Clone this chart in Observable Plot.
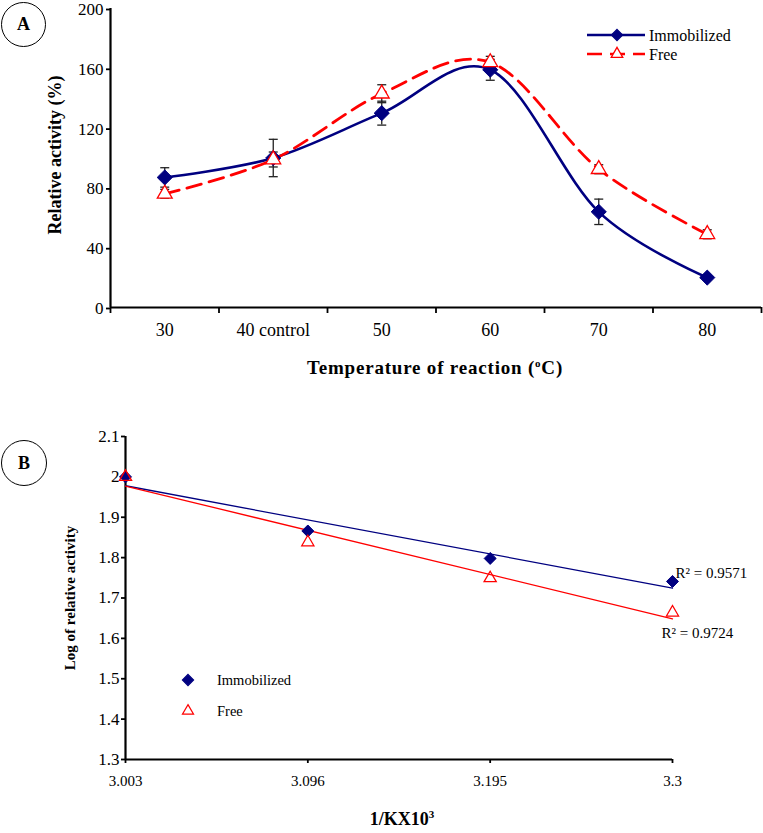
<!DOCTYPE html>
<html><head><meta charset="utf-8">
<script src="https://cdn.jsdelivr.net/npm/d3@7"></script>
<script src="https://cdn.jsdelivr.net/npm/@observablehq/plot@0.6"></script>
<style>
html,body{margin:0;padding:0;background:#fff;}
body{width:763px;height:833px;position:relative;overflow:hidden;font-family:"Liberation Serif","Times New Roman",serif;color:#000;}
.abs{position:absolute;}
.ctr{position:absolute;transform:translate(-50%,-50%);white-space:nowrap;}
.rot{position:absolute;transform:translate(-50%,-50%) rotate(-90deg);white-space:nowrap;}
.circ{position:absolute;border:1.3px solid #000;border-radius:50%;display:flex;align-items:center;justify-content:center;font-weight:bold;font-size:18px;box-sizing:border-box;}
</style></head>
<body>
<div id="A" class="abs" style="left:0;top:0"></div>
<div id="B" class="abs" style="left:0;top:400px"></div>
<div id="overlay"></div>
<script>
// ---- Panel A data ----
const tempLabels = ["30", "40 control", "50", "60", "70", "80"];
const immobA = [87, 100, 130, 159, 64, 20];
const immobErr = [6.5, 12.5, 8, 7, 8.5, 0];
const freeA = [76, 99, 143, 164, 92.5, 49];
const freeErr = [3, 5, 6, 4, 3, 3];
const yTicksA = [0, 40, 80, 120, 160, 200];

// ---- Panel B data ----
const invTLabels = ["3.003", "3.096", "3.195", "3.3"];
const immobLog = [2.0, 1.866, 1.798, 1.741];
const freeLog = [2.0, 1.838, 1.749, 1.664];
const yTicksB = [1.3, 1.4, 1.5, 1.6, 1.7, 1.8, 1.9, 2, 2.1];
const r2Labels = ["R\u00B2 = 0.9571", "R\u00B2 = 0.9724"];

const NAVY = "#000080", RED = "#FF0000";
const capSymbol = {draw(ctx) { ctx.moveTo(-4.5, 0); ctx.lineTo(4.5, 0); }};

const rowsIm = immobA.map((v, i) => ({i, v, e: immobErr[i]}));
const rowsFr = freeA.map((v, i) => ({i, v, e: freeErr[i]}));
const errRows = [...rowsIm, ...rowsFr].filter(d => d.e > 0);
const capRows = errRows.flatMap(d => [{i: d.i, y: d.v - d.e}, {i: d.i, y: d.v + d.e}]);

const plotA = Plot.plot({
  width: 763, height: 390,
  marginLeft: 110, marginRight: 2, marginTop: 8, marginBottom: 83,
  style: {fontFamily: "Liberation Serif, serif", fontSize: "17px", color: "#000", background: "transparent", overflow: "visible"},
  x: {domain: [-0.5, 5.5]},
  y: {domain: [0, 200]},
  marks: [
    Plot.axisY({ticks: yTicksA, tickSize: 4, tickPadding: 3, label: null, strokeWidth: 1.8, fontSize: 17, dy: 1}),
    Plot.axisX({ticks: d3.range(6), tickFormat: i => tempLabels[i], tickSize: 0, tickPadding: 16, label: null, fontSize: 18}),
    Plot.axisX({ticks: d3.range(7).map(k => k - 0.5), tickFormat: () => "", tickSize: 6, label: null, strokeWidth: 1.8}),
    Plot.ruleY([0], {stroke: "#000", strokeWidth: 2.2}),
    Plot.ruleX([-0.5], {stroke: "#000", strokeWidth: 2.2}),
    Plot.ruleX(errRows, {x: "i", y1: d => d.v - d.e, y2: d => d.v + d.e, stroke: "#222", strokeWidth: 1.3}),
    Plot.dot(capRows, {x: "i", y: "y", symbol: capSymbol, stroke: "#222", strokeWidth: 1.3, fill: "none"}),
    Plot.line(rowsIm, {x: "i", y: "v", stroke: NAVY, strokeWidth: 2.6, curve: "cardinal"}),
    Plot.line(rowsFr, {x: "i", y: "v", stroke: RED, strokeWidth: 2.8, strokeDasharray: "15,8", curve: "cardinal"}),
    Plot.dot(rowsIm, {x: "i", y: "v", symbol: "diamond2", r: 6.8, fill: NAVY, stroke: NAVY, strokeWidth: 1}),
    Plot.dot(rowsFr, {x: "i", y: "v", symbol: "triangle2", r: 7.1, fill: "#fff", stroke: RED, strokeWidth: 1.3})
  ]
});
document.getElementById("A").appendChild(plotA);

const rowsImB = immobLog.map((v, i) => ({i, v}));
const rowsFrB = freeLog.map((v, i) => ({i, v}));
const r2Rows = [
  {i: 3, v: immobLog[3], t: r2Labels[0]},
  {i: 3, v: freeLog[3], t: r2Labels[1]}
];

const plotB = Plot.plot({
  width: 763, height: 433,
  marginLeft: 125, marginRight: 91, marginTop: 36, marginBottom: 74,
  style: {fontFamily: "Liberation Serif, serif", fontSize: "15px", color: "#000", background: "transparent", overflow: "visible"},
  x: {domain: [0, 3]},
  y: {domain: [1.3, 2.1]},
  marks: [
    Plot.axisY({ticks: yTicksB, tickFormat: d => String(d), tickSize: 4, tickPadding: 2, label: null, strokeWidth: 1.8, fontSize: 17}),
    Plot.axisX({ticks: d3.range(4), tickFormat: i => invTLabels[i], tickSize: 4, tickPadding: 12, label: null, strokeWidth: 1.8, fontSize: 15}),
    Plot.ruleY([1.3], {stroke: "#000", strokeWidth: 2.2}),
    Plot.ruleX([0], {stroke: "#000", strokeWidth: 2.2}),
    Plot.linearRegressionY(rowsImB, {x: "i", y: "v", stroke: NAVY, strokeWidth: 1.3, ci: 0}),
    Plot.linearRegressionY(rowsFrB, {x: "i", y: "v", stroke: RED, strokeWidth: 1.3, ci: 0}),
    Plot.dot(rowsImB, {x: "i", y: "v", symbol: "diamond2", r: 5.4, fill: NAVY, stroke: NAVY, strokeWidth: 1}),
    Plot.dot(rowsFrB, {x: "i", y: "v", symbol: "triangle2", r: 5.8, fill: "none", stroke: RED, strokeWidth: 1.3}),
    Plot.text(r2Rows.slice(0, 1), {x: "i", y: "v", text: "t", dx: 3, dy: -8, textAnchor: "start", fontSize: 15, fill: "#000"}),
    Plot.text(r2Rows.slice(1), {x: "i", y: "v", text: "t", dx: -11, dy: 21, textAnchor: "start", fontSize: 15, fill: "#000"})
  ]
});
document.getElementById("B").appendChild(plotB);

// ---- Titles, panel tags, legends ----
const ov = document.getElementById("overlay");
ov.innerHTML = `
<div class="circ" style="left:1px;top:2px;width:45px;height:45px;">A</div>
<div class="circ" style="left:1px;top:440px;width:46px;height:46px;">B</div>
<div class="rot" style="left:55px;top:155px;font-weight:bold;font-size:18px;">Relative activity (%)</div>
<div class="ctr" style="left:435px;top:368px;font-weight:bold;font-size:19px;letter-spacing:0.8px;">Temperature of reaction (<sup style="font-size:11px;">o</sup>C)</div>
<div class="rot" style="left:70px;top:598px;font-weight:bold;font-size:15px;">Log of relative activity</div>
<div class="ctr" style="left:402px;top:819px;font-weight:bold;font-size:18px;">1/KX10<sup style="font-size:11px;">3</sup></div>
`;

const lg = d3.select(ov).append("svg").attr("width", 763).attr("height", 833)
  .style("position", "absolute").style("left", "0px").style("top", "0px");
const sym = (type, r) => d3.symbol(type, Math.PI * r * r)();
// Legend A
const legA = [
  {name: "Immobilized", color: NAVY, dash: null, sym: d3.symbolDiamond2, r: 5, fill: NAVY, y: 35},
  {name: "Free", color: RED, dash: "15,8", sym: d3.symbolTriangle2, r: 5.5, fill: "#fff", y: 54}
];
legA.forEach(d => {
  lg.append("line").attr("x1", 587).attr("x2", 645).attr("y1", d.y).attr("y2", d.y)
    .attr("stroke", d.color).attr("stroke-width", 2.6).attr("stroke-dasharray", d.dash);
  lg.append("path").attr("d", sym(d.sym, d.r)).attr("transform", `translate(617,${d.y})`)
    .attr("fill", d.fill).attr("stroke", d.color).attr("stroke-width", 1.3);
  lg.append("text").attr("x", 649).attr("y", d.y).attr("dy", "0.35em")
    .attr("font-size", 16).attr("font-family", "Liberation Serif, serif").text(d.name);
});
// Legend B
const legB = [
  {name: "Immobilized", color: NAVY, sym: d3.symbolDiamond2, r: 5, fill: NAVY, y: 680},
  {name: "Free", color: RED, sym: d3.symbolTriangle2, r: 5.3, fill: "none", y: 711}
];
legB.forEach(d => {
  lg.append("path").attr("d", sym(d.sym, d.r)).attr("transform", `translate(188,${d.y})`)
    .attr("fill", d.fill).attr("stroke", d.color).attr("stroke-width", 1.2);
  lg.append("text").attr("x", 217).attr("y", d.y).attr("dy", "0.35em")
    .attr("font-size", 14.5).attr("font-family", "Liberation Serif, serif").text(d.name);
});
</script>
</body></html>
